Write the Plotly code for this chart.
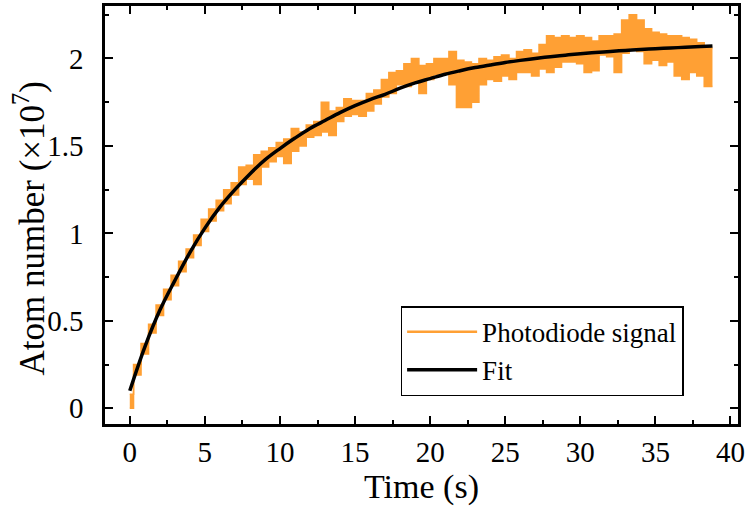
import plotly.graph_objects as go

# ---- data ----
sig_t = [0, 0.5, 1, 1.5, 2, 2.5, 3, 3.5, 4, 4.5, 5, 5.5, 6, 6.5, 7, 7.5, 8, 8.5, 9, 9.5,
         10, 10.5, 11, 11.5, 12, 12.5, 13, 13.5, 14, 14.5, 15, 15.5, 16, 16.5, 17, 17.5,
         18, 18.5, 19, 19.5, 20, 20.5, 21, 21.5, 22, 22.5, 23, 23.5, 24, 24.5, 25, 25.5,
         26, 26.5, 27, 27.5, 28, 28.5, 29, 29.5, 30, 30.5, 31, 31.5, 32, 32.5, 33, 33.5,
         34, 34.5, 35, 35.5, 36, 36.5, 37, 37.5, 38, 38.5, 38.8]
sig_lo = [0.00, 0.19, 0.31, 0.43, 0.53, 0.62, 0.70, 0.78, 0.86, 0.93, 1.01, 1.07, 1.13, 1.17,
          1.22, 1.28, 1.31, 1.28, 1.38, 1.41, 1.44, 1.40, 1.47, 1.50, 1.55, 1.56, 1.58, 1.56,
          1.64, 1.67, 1.68, 1.67, 1.70, 1.74, 1.78, 1.80, 1.85, 1.84, 1.86, 1.80, 1.88, 1.91,
          1.92, 1.85, 1.72, 1.72, 1.75, 1.85, 1.88, 1.87, 1.90, 1.88, 1.92, 1.92, 1.90, 1.94,
          1.92, 1.95, 1.98, 1.98, 1.97, 1.92, 1.93, 2.02, 2.01, 1.92, 2.03, 2.06, 2.04, 1.97,
          1.99, 1.96, 1.98, 1.90, 1.88, 1.92, 1.90, 1.84, 1.84]
sig_hi = [0.08, 0.25, 0.37, 0.48, 0.59, 0.68, 0.76, 0.84, 0.91, 0.99, 1.08, 1.14, 1.19, 1.25,
          1.29, 1.38, 1.39, 1.45, 1.47, 1.49, 1.52, 1.54, 1.60, 1.58, 1.62, 1.64, 1.75, 1.70,
          1.72, 1.77, 1.76, 1.76, 1.80, 1.82, 1.88, 1.92, 1.93, 1.97, 2.00, 1.96, 1.97, 2.00,
          2.00, 2.04, 1.99, 1.98, 1.97, 2.00, 1.99, 2.01, 2.02, 2.00, 2.04, 2.05, 2.03, 2.08,
          2.13, 2.12, 2.13, 2.12, 2.13, 2.12, 2.10, 2.13, 2.13, 2.14, 2.22, 2.25, 2.22, 2.17,
          2.15, 2.14, 2.13, 2.13, 2.12, 2.11, 2.09, 2.07, 2.06]

fit_t = [0, 1, 2, 3, 4, 5, 6, 7, 8, 9, 10, 11, 12, 13, 14, 15, 16, 17, 18, 19, 20, 21, 22,
         23, 24, 25, 26, 27, 28, 29, 30, 31, 32, 33, 34, 35, 36, 37, 38, 38.8]
fit_y = [0.10, 0.35, 0.56, 0.73, 0.89, 1.03, 1.15, 1.25, 1.34, 1.42, 1.485, 1.545, 1.60,
         1.645, 1.69, 1.73, 1.765, 1.795, 1.83, 1.86, 1.885, 1.91, 1.93, 1.948, 1.963, 1.977,
         1.989, 2.0, 2.01, 2.019, 2.027, 2.034, 2.04, 2.046, 2.051, 2.056, 2.06, 2.064, 2.068,
         2.072]

x_ticks = [0, 5, 10, 15, 20, 25, 30, 35, 40]
y_ticks = [0, 0.5, 1, 1.5, 2]
y_tick_labels = ["0", "0.5", "1", "1.5", "2"]

ORANGE = "rgb(255,160,52)"
FONT = "Liberation Serif"

fig = go.Figure()
fig.add_trace(go.Scatter(x=sig_t, y=sig_hi, mode="lines", line=dict(color=ORANGE, width=1.5, shape="hvh"),
                         showlegend=False, hoverinfo="skip"))
fig.add_trace(go.Scatter(x=sig_t, y=sig_lo, mode="lines", line=dict(color=ORANGE, width=1.5, shape="hvh"),
                         fill="tonexty", fillcolor=ORANGE, showlegend=False, hoverinfo="skip"))
fig.add_trace(go.Scatter(x=[None], y=[None], mode="lines", line=dict(color=ORANGE, width=2.5),
                         name="Photodiode signal"))
fig.add_trace(go.Scatter(x=fit_t, y=fit_y, mode="lines", line=dict(color="black", width=3.5, shape="spline"),
                         name="Fit"))

axis_common = dict(
    showline=True, linecolor="black", linewidth=2.5, mirror="ticks",
    ticks="inside", ticklen=8, tickwidth=2, tickcolor="black",
    showgrid=False, zeroline=False, automargin=False,
    tickfont=dict(family=FONT, size=29, color="black"),
)

fig.update_xaxes(**axis_common, range=[-1.65, 40.5], tickvals=x_ticks,
                 minor=dict(ticks="inside", ticklen=4, tickwidth=2, dtick=2.5, tick0=0, tickcolor="black"),
                 title=dict(text="Time (s)", font=dict(family=FONT, size=34, color="black"), standoff=6),
                 ticklabelstandoff=0)
fig.update_yaxes(**axis_common, range=[-0.09, 2.3], tickvals=y_ticks, ticktext=y_tick_labels,
                 minor=dict(ticks="inside", ticklen=4, tickwidth=2, dtick=0.25, tick0=0, tickcolor="black"),
                 ticklabelstandoff=13)

fig.add_annotation(text="Atom number (×10<sup>7</sup>)", xref="paper", yref="paper",
                   x=-0.119, y=0.467, xanchor="center", yanchor="middle", textangle=-90,
                   showarrow=False, font=dict(family=FONT, size=35, color="black"))

fig.update_layout(
    width=748, height=508,
    margin=dict(l=105, r=10, t=6, b=84),
    paper_bgcolor="white", plot_bgcolor="white",
    font=dict(family=FONT, color="black"),
    legend=dict(x=0.467, y=0.282, xanchor="left", yanchor="top",
                bordercolor="black", borderwidth=1.5, bgcolor="white",
                font=dict(family=FONT, size=27, color="black"),
                itemwidth=70, tracegroupgap=0, traceorder="normal"),
)

fig.write_html("out.html", post_script="document.body.style.margin='0px';",
               config={"displayModeBar": False})
